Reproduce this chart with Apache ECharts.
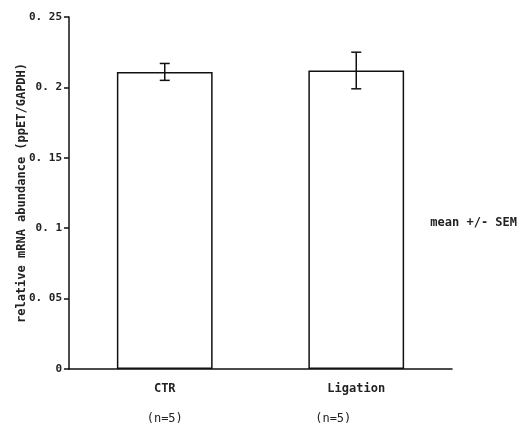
<!DOCTYPE html>
<html>
<head>
<meta charset="utf-8">
<script src="https://cdn.jsdelivr.net/npm/echarts@6/dist/echarts.min.js"></script>
<style>
  html, body { margin: 0; padding: 0; background: #fff; }
  #chart { width: 523px; height: 430px; }
</style>
</head>
<body>
<div id="chart"></div>
<script>
var categories = ['CTR', 'Ligation'];
var counts = ['(n=5)', '(n=5)'];
var means = [0.211, 0.212];
var errLow = [0.205, 0.199];
var errHigh = [0.217, 0.225];
var yTicks = { 0: '0', 0.05: '0. 05', 0.1: '0. 1', 0.15: '0. 15', 0.2: '0. 2', 0.25: '0. 25' };

var FONT = '"DejaVu Sans Mono", monospace';
var chart = echarts.init(document.getElementById('chart'));

// error bars drawn through the value axis
function renderErr(params, api) {
    var lo = api.coord([api.value(0), api.value(1)]);
    var hi = api.coord([api.value(0), api.value(2)]);
    var cap = 5;
    var st = { stroke: '#111', lineWidth: 1.5 };
    return {
        type: 'group',
        children: [
            { type: 'line', shape: { x1: hi[0], y1: hi[1], x2: lo[0], y2: lo[1] }, style: st },
            { type: 'line', shape: { x1: hi[0] - cap, y1: hi[1], x2: hi[0] + cap, y2: hi[1] }, style: st },
            { type: 'line', shape: { x1: lo[0] - cap, y1: lo[1], x2: lo[0] + cap, y2: lo[1] }, style: st }
        ]
    };
}

chart.setOption({
    animation: false,
    backgroundColor: '#fff',
    grid: { left: 69, right: 71, top: 17, bottom: 61, containLabel: false, outerBoundsMode: 'none' },
    xAxis: {
        type: 'category',
        data: categories,
        axisLine: { lineStyle: { color: '#111', width: 1.5 } },
        axisTick: { length: 7, lineStyle: { color: '#111', width: 1.5 } },
        axisLabel: {
            margin: 5,
            formatter: function (v, i) {
                return '{a|' + v + '}\n{b' + i + '|' + counts[i] + '}';
            },
            rich: {
                a: { fontFamily: FONT, fontSize: 12, fontWeight: 'bold', color: '#222', lineHeight: 30 },
                b0: { fontFamily: FONT, fontSize: 12, color: '#222', lineHeight: 30, padding: [0, 0, 0, 0] },
                b1: { fontFamily: FONT, fontSize: 12, color: '#222', lineHeight: 30, padding: [0, 46, 0, 0] }
            }
        }
    },
    yAxis: {
        type: 'value',
        min: 0,
        max: 0.25,
        interval: 0.05,
        name: 'relative mRNA abundance (ppET/GAPDH)',
        nameLocation: 'middle',
        nameGap: 41,
        nameMoveOverlap: false,
        nameTextStyle: { fontFamily: FONT, fontSize: 12, fontWeight: 'bold', color: '#222' },
        splitLine: { show: false },
        axisLine: { show: true, lineStyle: { color: '#111', width: 1.5 } },
        axisTick: { show: true, length: 5, lineStyle: { color: '#111', width: 1.5 } },
        axisLabel: {
            margin: 7,
            fontFamily: FONT,
            fontSize: 11,
            fontWeight: 'bold',
            color: '#222',
            formatter: function (v) {
                var k = Math.round(v * 100) / 100;
                return yTicks[k] !== undefined ? yTicks[k] : String(v);
            }
        }
    },
    graphic: [{
        type: 'text',
        right: 6,
        top: 217,
        style: { text: 'mean +/- SEM', fontFamily: FONT, fontSize: 12, fontWeight: 'bold', fill: '#222' }
    }],
    series: [{
        type: 'bar',
        data: means,
        barWidth: '50%',
        itemStyle: { color: '#fff', borderColor: '#111', borderWidth: 1.5 }
    }, {
        type: 'custom',
        renderItem: renderErr,
        encode: { x: 0, y: [1, 2] },
        data: categories.map(function (c, i) { return [i, errLow[i], errHigh[i]]; }),
        z: 10
    }]
});
</script>
</body>
</html>
